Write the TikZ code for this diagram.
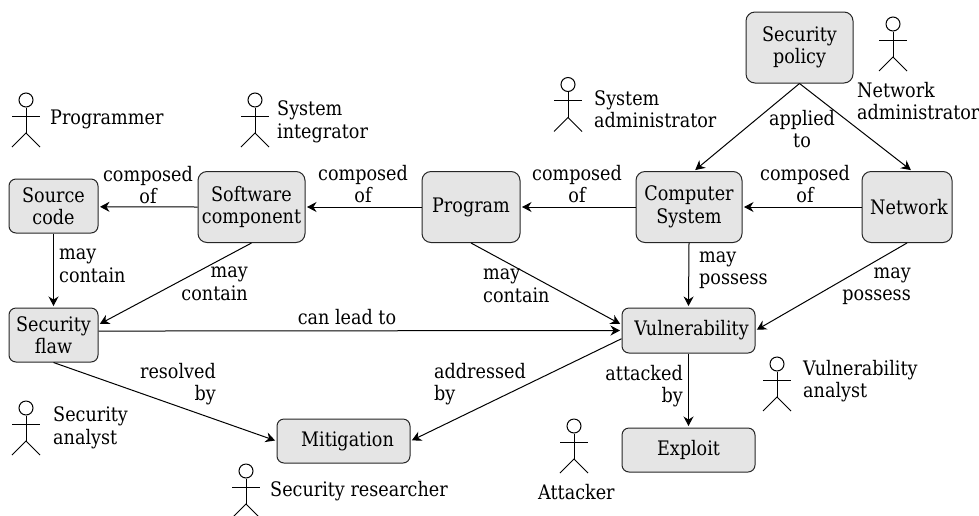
\documentclass[tikz,border=0pt]{standalone}
\usepackage{fontspec}
\setmainfont{DejaVu Serif}[FakeStretch=0.88]
\usetikzlibrary{arrows.meta}
\newcommand{\myactor}[3]{%
  \node[actorhead] (#3) at (#1,#2) {};
  \coordinate (#3arm) at (#1,#2+16);
  \coordinate (#3hip) at (#1,#2+33);
  \draw[actorline] (#3.south) -- (#3hip);
  \draw[actorline] ([xshift=-14pt]#3arm) -- ([xshift=14pt]#3arm);
  \draw[actorline] ([xshift=-14pt,yshift=-14pt]#3hip) -- (#3hip) -- ([xshift=14pt,yshift=-14pt]#3hip);
}
\tikzset{
  box/.style={draw=black!85,fill=black!10,line width=1pt,inner sep=0pt,align=center,font=\fontsize{20}{22.5}\selectfont},
  lbl/.style={inner sep=0pt,font=\fontsize{20}{22.5}\selectfont},
  conn/.style={line width=1pt,-{Stealth[length=9.5pt,width=10pt]},shorten >=1.5pt},
  actorhead/.style={circle,draw=black,line width=1pt,minimum size=14pt,inner sep=0pt},
  actorline/.style={line width=1pt},
}
\begin{document}
\begin{tikzpicture}[x=1pt,y=-1pt]
\clip (0,0) rectangle (979,515);
\node[box,rounded corners=9pt,minimum width=107pt,minimum height=71pt] (policy) at (799.5,47.5) {Security\\policy};
\node[box,rounded corners=9pt,minimum width=106pt,minimum height=71pt] (computer) at (689,207) {Computer\\System};
\node[box,rounded corners=9pt,minimum width=90pt,minimum height=71pt] (network) at (907,207) {\hspace{4pt}Network};
\node[box,rounded corners=9pt,minimum width=98pt,minimum height=71pt] (program) at (471,207) {Program};
\node[box,rounded corners=9pt,minimum width=107pt,minimum height=71pt] (software) at (251.5,207) {Software\\component};
\node[box,rounded corners=7pt,minimum width=89pt,minimum height=54pt] (source) at (53.5,206) {Source\\code};
\node[box,rounded corners=7pt,minimum width=89pt,minimum height=54pt] (flaw) at (53.5,335) {Security\\flaw};
\node[box,rounded corners=7pt,minimum width=133pt,minimum height=44pt] (mitigation) at (343.5,441) {\hspace{8pt}Mitigation};
\node[box,rounded corners=7pt,minimum width=133pt,minimum height=45pt] (vuln) at (688.5,330.5) {\hspace{6pt}Vulnerability};
\node[box,rounded corners=7pt,minimum width=133pt,minimum height=44pt] (exploit) at (688.5,450) {Exploit};

\draw[conn] (policy.south) -- (computer.82);
\draw[conn] (policy.south) -- (network.82);
\draw[conn] (network.west) -- (computer.east);
\draw[conn] (computer.west) -- (program.east);
\draw[conn] (program.west) -- (software.east);
\draw[conn] (software.west) -- (source.-1.3);
\draw[conn] (source.south) -- (flaw.north);
\draw[conn] (software.south) -- (flaw.13);
\draw[conn] (flaw.5) -- (vuln.west);
\draw[conn] (program.south) -- (vuln.175);
\draw[conn] (computer.south) -- (vuln.north);
\draw[conn] (network.south) -- (vuln.east);
\draw[conn] (vuln.187) -- (mitigation.east);
\draw[conn] (flaw.south) -- (mitigation.west);
\draw[conn] (vuln.south) -- (exploit.north);

\node[lbl,align=center] (l1) at (148,185) {composed\\of};
\node[lbl,align=center] (l2) at (363,184) {composed\\of};
\node[lbl,align=center] (l3) at (577,184) {composed\\of};
\node[lbl,align=center] (l4) at (805,184) {composed\\of};
\node[lbl,align=center] (l5) at (802,129) {applied\\to};
\node[lbl,align=left,anchor=west] (l6) at (59,266) {may\\contain};
\node[lbl,align=right,anchor=east] (l7) at (248,284) {may\\contain};
\node[lbl,align=left,anchor=west] (l8) at (483,286) {may\\contain};
\node[lbl,align=left,anchor=west] (l9) at (699,270) {may\\possess};
\node[lbl,align=right,anchor=east] (l10) at (911,286) {may\\possess};
\node[lbl] (l11) at (347,317) {can lead to};
\node[lbl,align=right,anchor=east] (l12) at (216,384) {resolved\\by};
\node[lbl,align=left,anchor=west] (l13) at (434,384) {addressed\\by};
\node[lbl,align=right,anchor=east] (l14) at (683,386) {attacked\\by};

\myactor{26}{100}{a1}
\myactor{255}{100}{a2}
\myactor{568}{84.5}{a3}
\myactor{893}{24}{a4}
\myactor{26}{408}{a5}
\myactor{246}{471}{a6}
\myactor{574}{426}{a7}
\myactor{777}{364}{a8}

\node[lbl,anchor=west] (t1) at (50,119) {Programmer};
\node[lbl,align=left,anchor=west] (t2) at (277,122) {System\\integrator};
\node[lbl,align=left,anchor=west] (t3) at (594,109) {System\\administrator};
\node[lbl,align=left,anchor=west] (t4) at (857,101) {Network\\administrator};
\node[lbl,align=left,anchor=west] (t5) at (53,428) {Security\\analyst};
\node[lbl,anchor=west] (t6) at (270,491) {Security researcher};
\node[lbl,anchor=west] (t7) at (538,492) {Attacker};
\node[lbl,align=left,anchor=west] (t8) at (803,381) {Vulnerability\\analyst};
\end{tikzpicture}
\end{document}
